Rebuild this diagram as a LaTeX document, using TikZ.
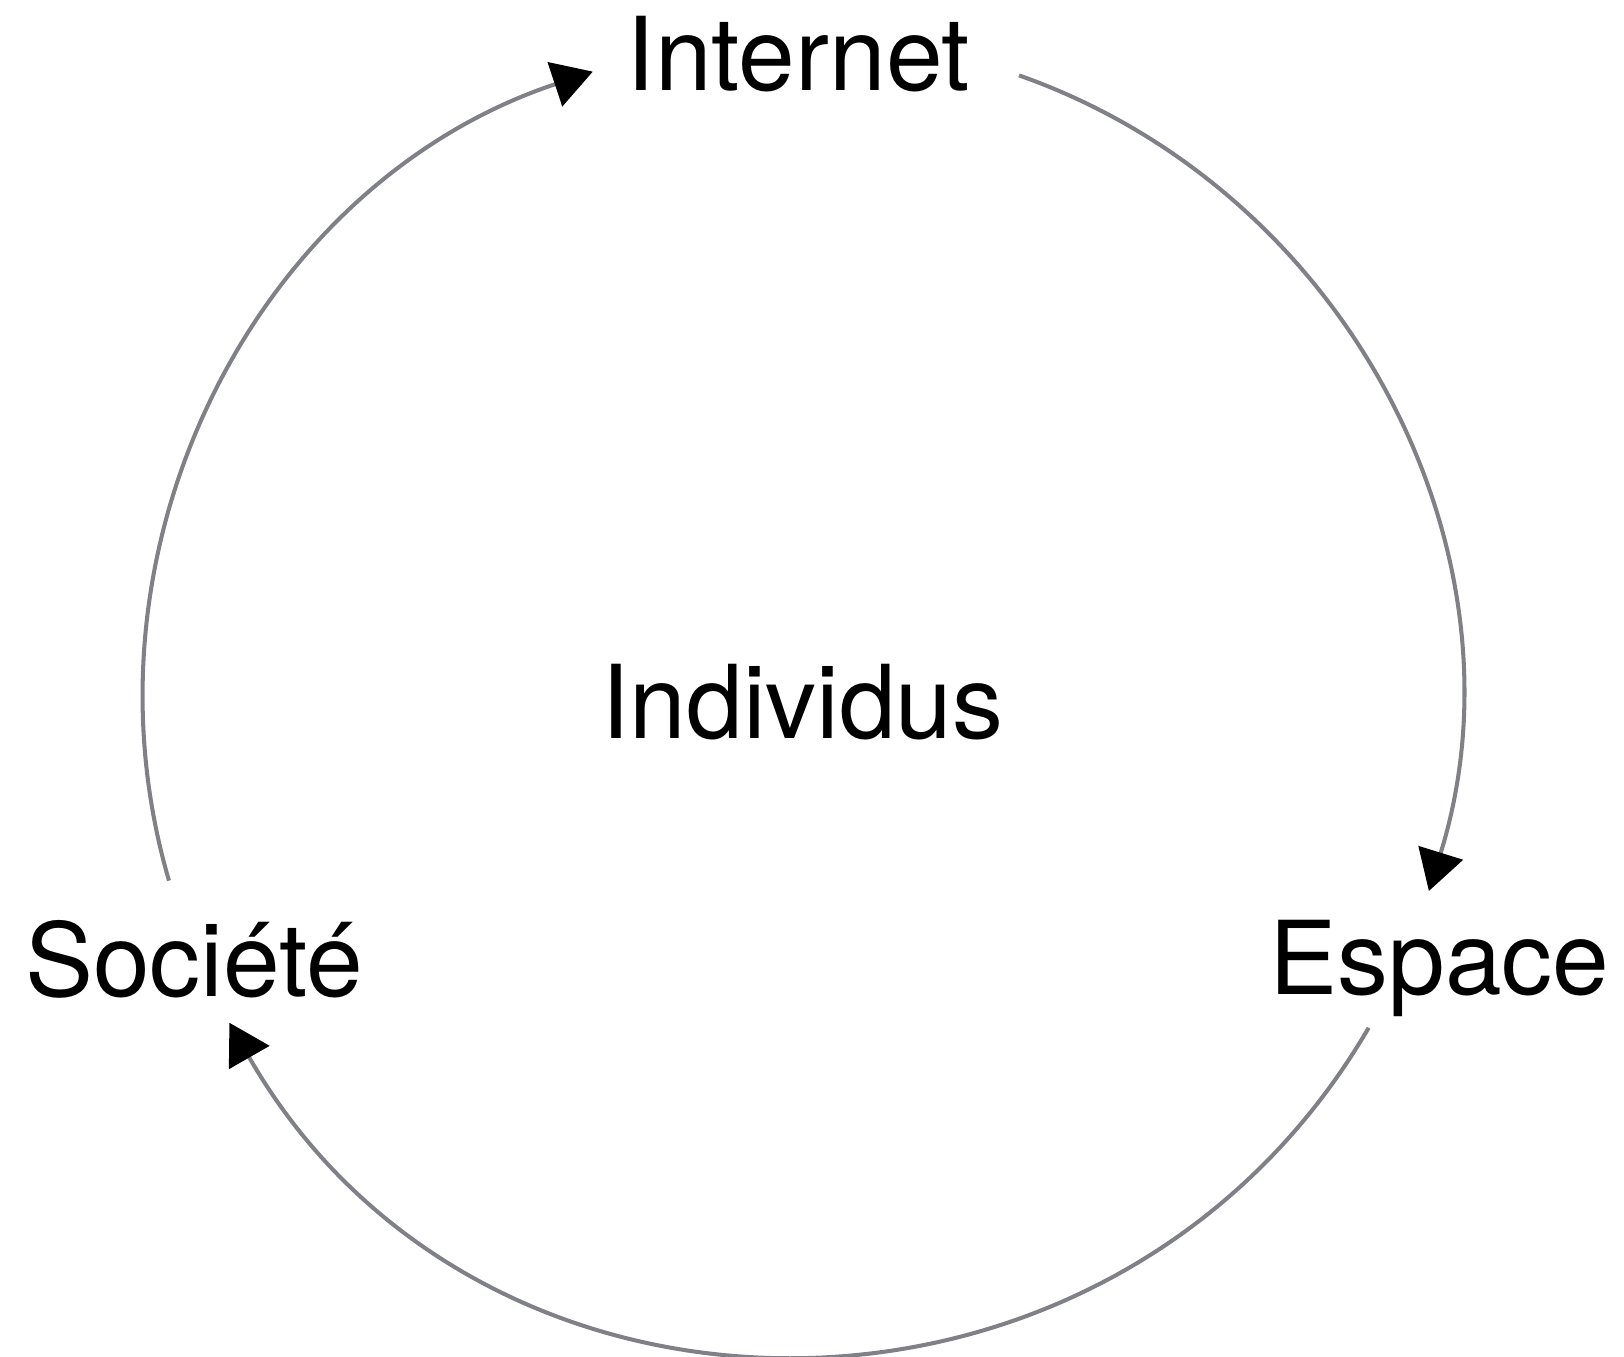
\documentclass[tikz,border=0pt]{standalone}
\usepackage{fontspec}
\setmainfont{TeX Gyre Heros}
\usetikzlibrary{arrows.meta}
\definecolor{ringgray}{RGB}{128,129,134}
\tikzset{
  >={Triangle[length=4mm, width=4.6mm, color=black]}, % solid black heads
  ring/.style={draw=ringgray, line width=1.15pt}, % the grey circle pieces
  word/.style={font=\fontsize{29}{34}\selectfont, anchor=base, inner sep=0pt}, % big labels
}

\begin{document}
\begin{tikzpicture}
    \useasboundingbox (-8.005,-6.61) rectangle (8.235,6.96);

    \node[word] (ind) at (0.02,-0.43) {Individus};
    \node[word] (int) at (-0.02,6.05) {Internet};
    \node[word] (esp) at (6.39,-2.99) {Espace};
    \node[word] (soc) at (-6.065,-3.01) {Société};

    % ends of the three arcs (radius 6.58)
    \coordinate (int-out) at (70.6:6.58);
    \coordinate (esp-in) at (-17.24:6.58);
    \coordinate (esp-out) at (-30.28:6.58);
    \coordinate (soc-in) at (-150.22:6.58);
    \coordinate (soc-out) at (-163.7:6.58);
    \coordinate (int-in) at (108.4:6.58);

    \draw[ring] (int-out) edge[->, out=-19.4, in=72.76, looseness=0.985] (esp-in)
    (esp-out) edge[->, out=-120.28, in=-60.22, looseness=1.135] (soc-in)
    (soc-out) edge[->, out=106.3, in=198.4, looseness=0.985] (int-in);

\end{tikzpicture}
\end{document}
